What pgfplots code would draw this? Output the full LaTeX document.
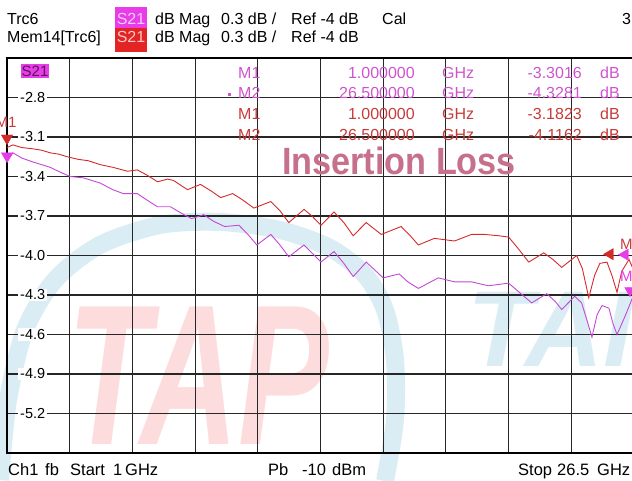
\documentclass[border=0pt]{standalone}
\usepackage{fontspec}
\setmainfont{Liberation Sans}
\usepackage{pgfplots}
\pgfplotsset{compat=1.18}
\definecolor{trcR}{RGB}{212,42,42}
\definecolor{trcM}{RGB}{196,72,214}
\definecolor{txtM}{RGB}{206,84,206}
\definecolor{txtR}{RGB}{200,58,58}
\definecolor{boxM}{RGB}{232,60,232}
\definecolor{boxR}{RGB}{226,36,36}
\definecolor{wmPink}{RGB}{252,220,220}
\definecolor{wmBlue}{RGB}{219,237,244}
\definecolor{ttl}{RGB}{198,112,140}
\newcommand{\fs}[1]{\fontsize{#1}{#1}\selectfont}
\begin{document}
\begin{tikzpicture}[x=1pt,y=1pt]
\begin{scope}
\clip (0,0) rectangle (632,481);
% watermark
\draw[wmBlue, line width=18pt] plot[smooth] coordinates {(0,1) (8,81) (25,151) (55,201) (100,236) (160,256) (220,259) (280,251) (330,233) (365,206) (385,171) (395,121) (395,61) (385,0)};
\node[anchor=base west, inner sep=0, text=wmPink, xscale=0.68, font=\fs{200}\bfseries\itshape] at (67,36) {TAP};
\node[anchor=base west, inner sep=0, text=wmBlue, font=\fs{108}\bfseries\itshape] at (467,114) {TAI};
% vertical grid lines of the right half
\foreach \gx in {320.5,383.2,445.9,508.6,571.3}{
  \draw[black!85, line width=1.1pt] (\gx,28) -- (\gx,423);
}
\end{scope}

\begin{scope}
\clip (0,0) rectangle (632,481);
\begin{axis}[at={(7pt,28pt)}, anchor=south west, scale only axis,
  width=627pt, height=395pt,
  xmin=1, xmax=26.5, ymin=-5.5, ymax=-2.5,
  xtick={1,3.55,6.1,8.65,11.2,13.75,16.3,18.85,21.4,23.95,26.5},
  xticklabel=\empty,
  ytick={-5.2,-4.9,-4.6,-4.3,-4.0,-3.7,-3.4,-3.1,-2.8},
  xmajorgrids=true, ymajorgrids=true,
  major grid style={black!85, line width=1.1pt},
  axis line style={black, line width=1.2pt},
  major tick length=0pt,
  /pgf/number format/assume math mode=true,
  yticklabel style={anchor=west, xshift=11pt, fill=white, inner xsep=2pt, inner ysep=1pt, font=\fs{14.5},
    /pgf/number format/fixed, /pgf/number format/fixed zerofill, /pgf/number format/precision=1},
  clip=false]
\addplot[trcR, line width=0.9pt] coordinates {
(1.00,-3.18) (1.24,-3.16) (1.6,-3.18) (2.06,-3.19) (2.4,-3.20) (2.75,-3.22) (3.1,-3.23) (3.45,-3.25) (3.9,-3.27) (4.3,-3.28) (4.79,-3.31) (5.3,-3.33) (5.90,-3.36) (6.30,-3.35) (6.7,-3.39) (7.12,-3.44) (7.53,-3.42) (7.77,-3.43) (8.34,-3.50) (8.87,-3.46) (9.3,-3.51) (9.69,-3.56) (10.18,-3.53) (10.6,-3.58) (11.04,-3.64) (11.73,-3.59) (12.1,-3.66) (12.46,-3.75) (13.08,-3.65) (13.4,-3.70) (13.77,-3.77) (14.30,-3.67) (14.7,-3.75) (15.08,-3.85) (15.61,-3.75) (16.22,-3.84) (17.03,-3.78) (17.4,-3.85) (17.73,-3.92) (18.38,-3.87) (18.8,-3.88) (19.20,-3.89) (19.89,-3.84) (20.42,-3.84) (21.0,-3.85) (21.40,-3.86) (21.8,-3.95) (22.22,-4.05) (22.83,-3.98) (23.2,-4.03) (23.56,-4.09) (24.17,-4.00) (24.4,-4.10) (24.66,-4.32) (24.9,-4.15) (25.11,-4.06) (25.40,-4.05) (25.6,-4.15) (25.81,-4.28) (26.0,-4.12) (26.30,-4.03) (26.50,-4.12)
};
\addplot[trcM, line width=0.9pt] coordinates {
(1.00,-3.29) (1.24,-3.22) (1.6,-3.26) (2.06,-3.29) (2.75,-3.33) (3.2,-3.37) (3.57,-3.40) (4.10,-3.41) (4.79,-3.45) (5.3,-3.50) (5.73,-3.53) (6.30,-3.53) (6.7,-3.58) (7.12,-3.63) (7.65,-3.63) (8.1,-3.68) (8.51,-3.72) (9.00,-3.69) (9.4,-3.74) (9.85,-3.78) (10.43,-3.77) (10.8,-3.84) (11.16,-3.92) (11.73,-3.84) (12.1,-3.92) (12.46,-4.01) (13.08,-3.92) (13.4,-3.98) (13.77,-4.05) (14.30,-3.97) (14.7,-4.06) (15.08,-4.16) (15.61,-4.05) (16.30,-4.17) (16.95,-4.14) (17.3,-4.20) (17.73,-4.25) (18.54,-4.17) (19.20,-4.20) (19.89,-4.20) (20.58,-4.23) (21.40,-4.21) (21.9,-4.29) (22.34,-4.36) (22.95,-4.29) (23.3,-4.35) (23.56,-4.41) (24.09,-4.31) (24.37,-4.36) (24.6,-4.50) (24.79,-4.62) (25.0,-4.45) (25.20,-4.38) (25.48,-4.40) (25.65,-4.52) (25.81,-4.60) (26.14,-4.46) (26.42,-4.33) (26.50,-4.33)
};
% markers
\addplot[only marks, mark=triangle*, mark size=6.5pt, color=trcR, mark options={yshift=9.6pt, rotate=180}] coordinates {(1,-3.1823)};
\addplot[only marks, mark=triangle*, mark size=6.5pt, color=boxM, mark options={yshift=7.5pt, rotate=180}] coordinates {(1,-3.3016)};
\addplot[only marks, mark=triangle*, mark size=6.5pt, color=trcR, mark options={xshift=-24pt, yshift=16.6pt, rotate=90}] coordinates {(26.5,-4.1162)};
\addplot[only marks, mark=triangle*, mark size=6.5pt, color=boxM, mark options={xshift=-9pt, yshift=44pt, rotate=90}] coordinates {(26.5,-4.3281)};
\addplot[only marks, mark=triangle*, mark size=6pt, color=boxM, mark options={xshift=-4pt, yshift=8pt, rotate=180}] coordinates {(26.5,-4.3281)};
\end{axis}

% marker labels
\node[anchor=base, inner sep=0, text=txtR, font=\fs{15}] at (6,353) {M1};
\node[anchor=base west, inner sep=0, text=txtR, font=\fs{15}] at (620,231) {M2};
\node[anchor=base west, inner sep=0, text=boxM, font=\fs{15}] at (620,199) {M2};

% header
\node[anchor=base west, inner sep=0, font=\fs{16}] at (7,456) {Trc6};
\fill[boxM] (115,453) rectangle (147,474);
\node[anchor=base, inner sep=0, text={rgb,255:red,250;green,205;blue,250}, font=\fs{16}] at (131,456) {S21};
\node[anchor=base west, inner sep=0, font=\fs{16}] at (155,456) {dB Mag};
\node[anchor=base west, inner sep=0, font=\fs{16}] at (221,456) {0.3 dB /};
\node[anchor=base west, inner sep=0, font=\fs{16}] at (291,456) {Ref -4 dB};
\node[anchor=base west, inner sep=0, font=\fs{16}] at (382,456) {Cal};
\node[anchor=base west, inner sep=0, font=\fs{16}] at (622,456) {3};
\node[anchor=base west, inner sep=0, font=\fs{16}] at (7,438) {Mem14[Trc6]};
\fill[boxR] (115,429) rectangle (147,453);
\node[anchor=base, inner sep=0, text={rgb,255:red,250;green,200;blue,200}, font=\fs{16}] at (131,438) {S21};
\node[anchor=base west, inner sep=0, font=\fs{16}] at (155,438) {dB Mag};
\node[anchor=base west, inner sep=0, font=\fs{16}] at (221,438) {0.3 dB /};
\node[anchor=base west, inner sep=0, font=\fs{16}] at (291,438) {Ref -4 dB};

% inner trace label
\node[fill=boxM, inner xsep=1pt, inner ysep=1pt, text={rgb,255:red,90;green,20;blue,90}, font=\fs{15}, text height=11pt, text depth=1pt] at (35,409.5) {S21};

% marker table
\foreach \yy/\mm/\ff/\vv/\cc in {402/M1/1.000000/-3.3016/txtM, 382/M2/26.500000/-4.3281/txtM, 361/M1/1.000000/-3.1823/txtR, 340/M2/26.500000/-4.1162/txtR}{
  \node[anchor=base west, inner sep=0, text=\cc, font=\fs{16}] at (238,\yy) {\mm};
  \node[anchor=base east, inner sep=0, text=\cc, font=\fs{16}] at (415,\yy) {\ff};
  \node[anchor=base west, inner sep=0, text=\cc, font=\fs{16}] at (442,\yy) {GHz};
  \node[anchor=base east, inner sep=0, text=\cc, font=\fs{16}] at (582,\yy) {\vv};
  \node[anchor=base west, inner sep=0, text=\cc, font=\fs{16}] at (600,\yy) {dB};
}
\fill[txtM] (227.5,384.5) rectangle (230.5,387.5);

% title
\node[anchor=base west, inner sep=0, text=ttl, xscale=0.9, font=\fs{38}\bfseries] at (282,306) {Insertion Loss};

% footer
\node[anchor=base west, inner sep=0, font=\fs{16.5}] at (8,5) {Ch1};
\node[anchor=base west, inner sep=0, font=\fs{16.5}] at (45,5) {fb};
\node[anchor=base west, inner sep=0, font=\fs{16.5}] at (70,5) {Start};
\node[anchor=base west, inner sep=0, font=\fs{16.5}] at (113,5) {1};
\node[anchor=base west, inner sep=0, font=\fs{16.5}] at (125,5) {GHz};
\node[anchor=base west, inner sep=0, font=\fs{16.5}] at (268,5) {Pb};
\node[anchor=base west, inner sep=0, font=\fs{16.5}] at (302,5) {-10};
\node[anchor=base west, inner sep=0, font=\fs{16.5}] at (332,5) {dBm};
\node[anchor=base west, inner sep=0, font=\fs{16.5}] at (518,5) {Stop};
\node[anchor=base west, inner sep=0, font=\fs{16.5}] at (557,5) {26.5};
\node[anchor=base west, inner sep=0, font=\fs{16.5}] at (597,5) {GHz};
\end{scope}
\pgfresetboundingbox
\useasboundingbox (0,0) rectangle (632,481);
\end{tikzpicture}
\end{document}
